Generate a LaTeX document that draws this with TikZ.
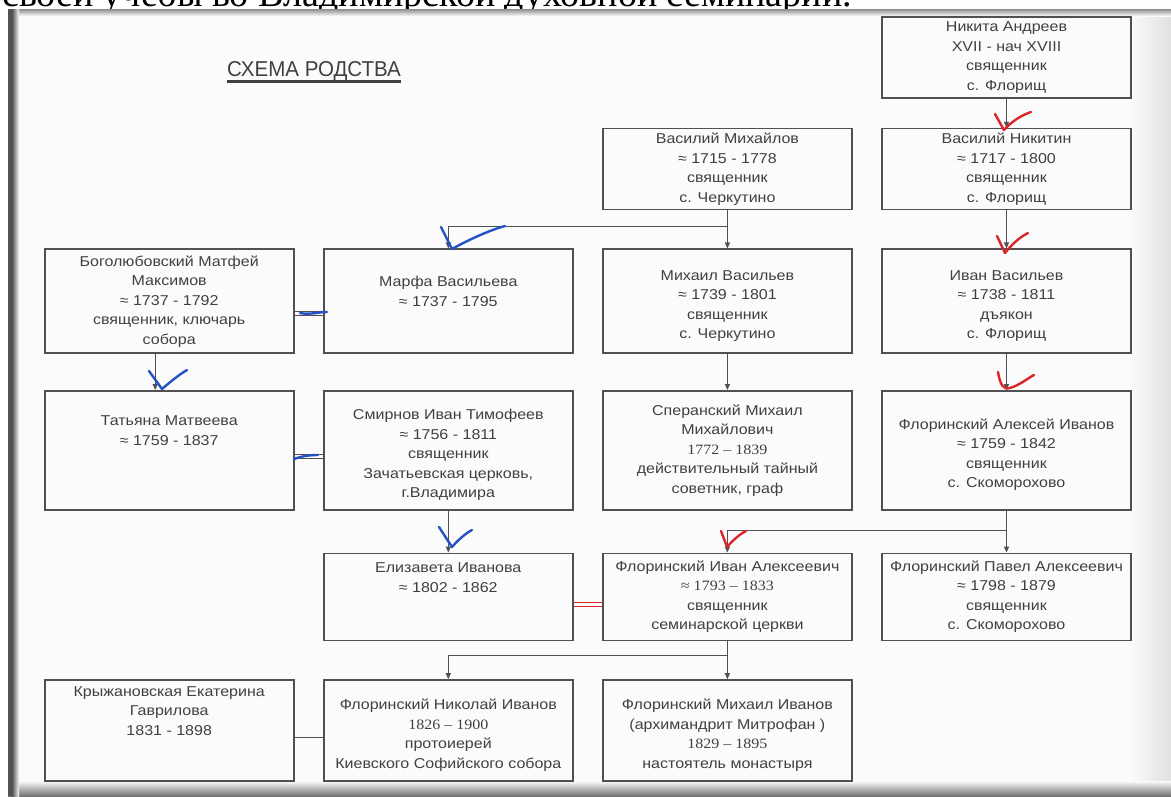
\documentclass[tikz,border=0pt]{standalone}
\usepackage{fontspec}
\setmainfont{Liberation Sans}[FakeStretch=1.12]
\newfontfamily\serifdate{Liberation Serif}[FakeStretch=1.12]
\newfontfamily\pagefont{Liberation Serif}
\newfontfamily\headfont{Liberation Sans}[FakeStretch=0.955]
\usetikzlibrary{arrows.meta,positioning,calc}
\newcommand\thickunder[1]{\setbox0\hbox{#1}\rlap{\rule[-6pt]{\wd0}{2.2pt}}\box0}
\definecolor{inkgray}{HTML}{404040}
\definecolor{linegray}{HTML}{505050}
\definecolor{paper}{HTML}{FBFBFB}
\definecolor{penblue}{HTML}{2452C4}
\definecolor{penred}{HTML}{D8262A}
\tikzset{
  person/.style    ={draw=linegray,line width=1.6pt,align=center,text=inkgray,
                     inner sep=0pt,minimum width=249pt,
                     font=\fontsize{14.3}{19.5}\selectfont},
  rowone/.style    ={person,minimum height=81pt},
  rowtwo/.style    ={person,minimum height=104pt},
  rowthree/.style  ={person,minimum height=119pt},
  rowfour/.style   ={person,minimum height=87pt},
  rowfive/.style   ={person,minimum height=101pt},
  descent/.style   ={-{Triangle[length=6pt,width=5pt]},line width=1.2pt,draw=linegray},
  wed/.style       ={draw=linegray,line width=1pt},
  pen/.style       ={line width=2.4pt,line cap=round,line join=round},
}

\begin{document}
\begin{tikzpicture}[x=1pt,y=-1pt,node distance=38pt and 28.5pt]
\useasboundingbox (0,0) rectangle (1171,796);
% page photo
\fill[white] (0,0) rectangle (1171,796);
\node[anchor=base west,inner sep=0pt,font=\pagefont\fontsize{38}{38}\selectfont] (pagetext)
  at (2,6) {своей учебы во Владимирской духовной семинарии.};
\fill[paper] (8,9) rectangle (1171,796);
\shade[left color=paper,right color=black!12] (1130,9) rectangle (1171,796);
\shade[top color=black!45,bottom color=paper] (8,9) rectangle (1171,16);
\shade[top color=paper,bottom color=black!55] (8,781) rectangle (1171,796);
\fill[black!68] (8,9) rectangle (12,796);
\shade[left color=black!68,right color=paper] (12,9) rectangle (19,796);
\node[anchor=base west,inner sep=0pt,text=inkgray,font=\headfont\fontsize{21.5}{24}\selectfont] (title)
  at (227,76.5) {\thickunder{СХЕМА РОДСТВА}};

% generations
\node[rowone] (nikita) at (1006.5,57.5)
  {Никита Андреев\\XVII - нач XVIII\\священник\\с. Флорищ};
\node[rowone,below=29pt of nikita] (vnikitin)
  {Василий Никитин\\≈ 1717 - 1800\\священник\\с. Флорищ};
\node[rowone,left=28.5pt of vnikitin] (vmikh)
  {Василий Михайлов\\≈ 1715 - 1778\\священник\\с. Черкутино};
\node[rowtwo,below=38pt of vmikh] (mikhail)
  {~\\Михаил Васильев\\≈ 1739 - 1801\\священник\\с. Черкутино};
\node[rowtwo,left=of mikhail] (marfa)
  {Марфа Васильева\\≈ 1737 - 1795\\~};
\node[rowtwo,left=of marfa] (bogol)
  {Боголюбовский Матфей\\Максимов\\≈ 1737 - 1792\\священник, ключарь\\собора};
\node[rowtwo,right=of mikhail] (ivanv)
  {~\\Иван Васильев\\≈ 1738 - 1811\\дъякон\\с. Флорищ};
\node[rowthree,below=36pt of mikhail] (speransky)
  {Сперанский Михаил\\Михайлович\\{\serifdate 1772 – 1839}\\действительный тайный\\советник, граф};
\node[rowthree,left=of speransky] (smirnov)
  {~\\Смирнов Иван Тимофеев\\≈ 1756 - 1811\\священник\\Зачатьевская церковь,\\г.Владимира};
\node[rowthree,left=of smirnov] (tatiana)
  {Татьяна Матвеева\\≈ 1759 - 1837\\~\\~};
\node[rowthree,right=of speransky] (aleksey)
  {~\\Флоринский Алексей Иванов\\≈ 1759 - 1842\\священник\\с. Скоморохово};
\node[rowfour,below=42pt of smirnov] (elizaveta)
  {Елизавета Иванова\\≈ 1802 - 1862\\~\\~};
\node[rowfour,right=of elizaveta] (fivan)
  {Флоринский Иван Алексеевич\\{\serifdate ≈ 1793 – 1833}\\священник\\семинарской церкви};
\node[rowfour,right=of fivan] (pavel)
  {Флоринский Павел Алексеевич\\≈ 1798 - 1879\\священник\\с. Скоморохово};
\node[rowfive,below=38pt of elizaveta] (nikolai)
  {~\\Флоринский Николай Иванов\\{\serifdate 1826 – 1900}\\протоиерей\\Киевского Софийского собора};
\node[rowfive,left=of nikolai] (kryzh)
  {Крыжановская Екатерина\\Гаврилова\\1831 - 1898\\~\\~};
\node[rowfive,right=of nikolai] (mikhailiv)
  {~\\Флоринский Михаил Иванов\\(архимандрит Митрофан )\\{\serifdate 1829 – 1895}\\настоятель монастыря};

% descent
\draw[descent] (nikita) -- (vnikitin);
\draw[descent] (vnikitin) -- (ivanv);
\draw[descent] (ivanv) -- (aleksey);
\draw[descent] (vmikh) -- (mikhail);
\draw[descent] (vmikh.south) -- ++(0,16) -| (marfa.north);
\draw[descent] (mikhail) -- (speransky);
\draw[descent] ([xshift=-14pt]bogol.south) -- ([xshift=-14pt]tatiana.north);
\draw[descent] (smirnov) -- (elizaveta);
\draw[descent] (aleksey) -- (pavel);
\draw[descent] (aleksey.south) -- ++(0,20) -| (fivan.north);
\draw[descent] (fivan) -- (mikhailiv);
\draw[descent] (fivan.south) -- ++(0,14) -| (nikolai.north);
% marriages
\draw[wed,double=paper,double distance=3pt] ([yshift=-12pt]bogol.east) -- ([yshift=-12pt]marfa.west);
\draw[wed,double=paper,double distance=3pt] ([yshift=-6pt]tatiana.east) -- ([yshift=-6pt]smirnov.west);
\draw[wed,draw=penred,double=paper,double distance=3pt] ([yshift=-8pt]elizaveta.east) -- ([yshift=-8pt]fivan.west);
\draw[wed] ([yshift=-6.5pt]kryzh.east) -- ([yshift=-6.5pt]nikolai.west);

% pen ticks
\draw[pen,penred] (995,114) -- (1004,130) .. controls (1012,121) and (1022,115) .. (1031,112);
\draw[pen,penred] (997,236) -- (1005,253) .. controls (1012,244) and (1020,237) .. (1028,233);
\draw[pen,penred] (998,372) .. controls (1000,384) and (1003,390) .. (1010,388)
  .. controls (1020,385) and (1028,378) .. (1034,375);
\draw[pen,penred] (721,531) -- (727,547) .. controls (733,540) and (740,534) .. (746,531);
\draw[pen,penblue] (441,227) -- (452,249) .. controls (468,240) and (490,230) .. (505,226);
\draw[pen,penblue] (149,371) -- (162,389) .. controls (170,382) and (180,374) .. (187,370);
\draw[pen,penblue] (439,527) -- (452,547) .. controls (458,540) and (466,533) .. (472,530);
\draw[pen,penblue] (300,313) .. controls (310,315) and (318,312) .. (327,312);
\draw[pen,penblue] (294,459) .. controls (302,456) and (310,455) .. (318,455);
\end{tikzpicture}
\end{document}
